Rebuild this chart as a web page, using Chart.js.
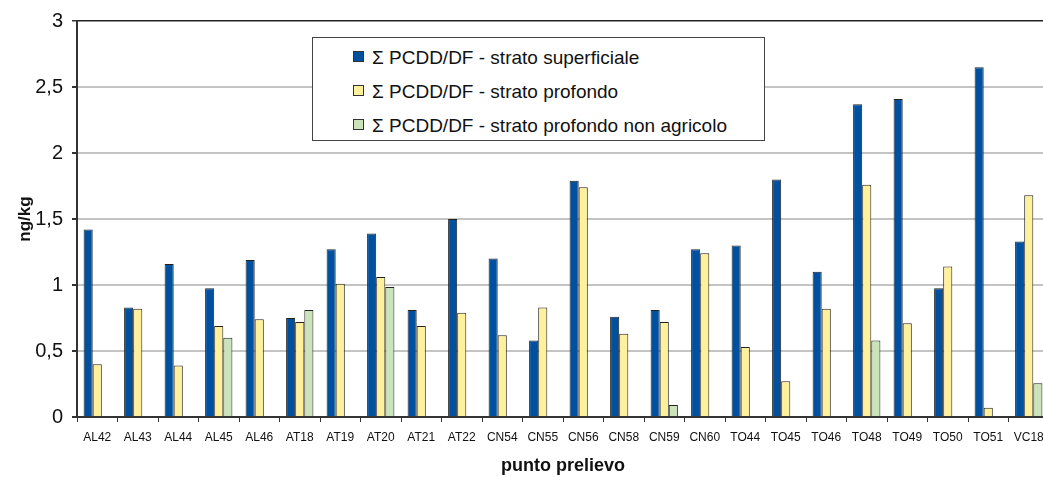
<!DOCTYPE html>
<html>
<head>
<meta charset="utf-8">
<script src="https://cdn.jsdelivr.net/npm/chart.js@4"></script>
<style>
  html, body { margin: 0; padding: 0; background: #fff; overflow: hidden; }
  #wrap { position: relative; width: 1052px; height: 477px; }
  #legendDiv {
    position: absolute; left: 312px; top: 37px; width: 451px; height: 102px;
    border: 1px solid #444; background: #fff;
    font-family: "Liberation Sans", Arial, sans-serif; font-size: 19px; color: #111;
  }
  .item { position: absolute; left: 40px; height: 22px; line-height: 22px; white-space: nowrap; }
  .box { position: absolute; left: 0; top: 4px; width: 9px; height: 9px; border: 1px solid #333; }
  .txt { position: absolute; left: 19px; top: 0; }
</style>
</head>
<body>
<div id="wrap">
  <canvas id="canvasDiv" width="1052" height="477"></canvas>
  <div id="legendDiv"></div>
</div>
<script>
// sampling points
const labels = ["AL42", "AL43", "AL44", "AL45", "AL46", "AT18", "AT19", "AT20", "AT21", "AT22",
  "CN54", "CN55", "CN56", "CN58", "CN59", "CN60", "TO44", "TO45", "TO46", "TO48",
  "TO49", "TO50", "TO51", "VC18"];
// ng/kg
const superficiale = [1.42, 0.83, 1.16, 0.975, 1.19, 0.75, 1.27, 1.39, 0.81, 1.50,
  1.20, 0.58, 1.79, 0.76, 0.81, 1.27, 1.30, 1.80, 1.10, 2.37,
  2.41, 0.975, 2.65, 1.33];
const profondo = [0.40, 0.82, 0.39, 0.69, 0.74, 0.72, 1.01, 1.06, 0.69, 0.79,
  0.62, 0.83, 1.74, 0.63, 0.72, 1.24, 0.53, 0.27, 0.82, 1.76,
  0.71, 1.14, 0.07, 1.68];
const nonAgricolo = [null, null, null, 0.60, null, 0.81, null, 0.985, null, null,
  null, null, null, null, 0.09, null, null, null, null, 0.58,
  null, null, null, 0.255];
const seriesNames = ["Σ PCDD/DF - strato superficiale", "Σ PCDD/DF - strato profondo",
  "Σ PCDD/DF - strato profondo non agricolo"];
const yTicks = [0, 0.5, 1, 1.5, 2, 2.5, 3];

const colors = ["#0050a0", "#fff09c", "#cae3ba"];
const FONT = "'Liberation Sans', Arial, sans-serif";

var chart = new Chart(document.getElementById("canvasDiv"), {
  type: "bar",
  data: {
    labels: labels,
    datasets: [superficiale, profondo, nonAgricolo].map((d, i) => ({
      label: seriesNames[i],
      data: d,
      backgroundColor: colors[i],
      borderColor: "#222",
      borderWidth: 1,
      categoryPercentage: 0.674,
      barPercentage: 1,
    })),
  },
  options: {
    responsive: false,
    devicePixelRatio: 1,
    animation: false,
    layout: { padding: { top: 18, right: 3, left: 0, bottom: 0 } },
    plugins: { legend: { display: false }, tooltip: { enabled: false } },
    scales: {
      x: {
        offset: true,
        afterFit: (s) => { s.height = 60; },
        grid: { display: true, drawOnChartArea: false, offset: true, tickLength: 5, tickColor: "#333" },
        border: { color: "#333", width: 2 },
        ticks: { color: "#111", font: { family: FONT, size: 12 }, padding: 8, maxRotation: 0, autoSkip: false },
        title: { display: true, text: "punto prelievo", color: "#111",
          font: { family: FONT, size: 18, weight: "bold" }, padding: { top: 0, bottom: 0 } },
      },
      y: {
        min: 0,
        max: 3,
        afterFit: (s) => { s.width = 77; },
        afterBuildTicks: (s) => { s.ticks = yTicks.map((v) => ({ value: v })); },
        grid: {
          color: (c) => (c.tick && c.tick.value === 3 ? "#222" : "#c4c4c4"),
          lineWidth: (c) => (c.tick && c.tick.value === 3 ? 1.5 : 2),
          tickLength: 5,
          tickColor: "#333",
        },
        border: { color: "#333", width: 2 },
        ticks: {
          color: "#111",
          font: { family: FONT, size: 20 },
          padding: 9,
          callback: (v) => String(v).replace(".", ","),
        },
        title: { display: true, text: "ng/kg", color: "#111",
          font: { family: FONT, size: 17, weight: "bold" }, padding: { top: 15, bottom: 0 } },
      },
    },
  },
});

// legend box
const legendDiv = document.getElementById("legendDiv");
seriesNames.forEach((name, i) => {
  const item = document.createElement("div");
  item.className = "item";
  item.style.top = (9 + i * 34) + "px";
  item.innerHTML = '<span class="box" style="background:' + colors[i] + '"></span><span class="txt">' + name + "</span>";
  legendDiv.appendChild(item);
});
</script>
</body>
</html>
